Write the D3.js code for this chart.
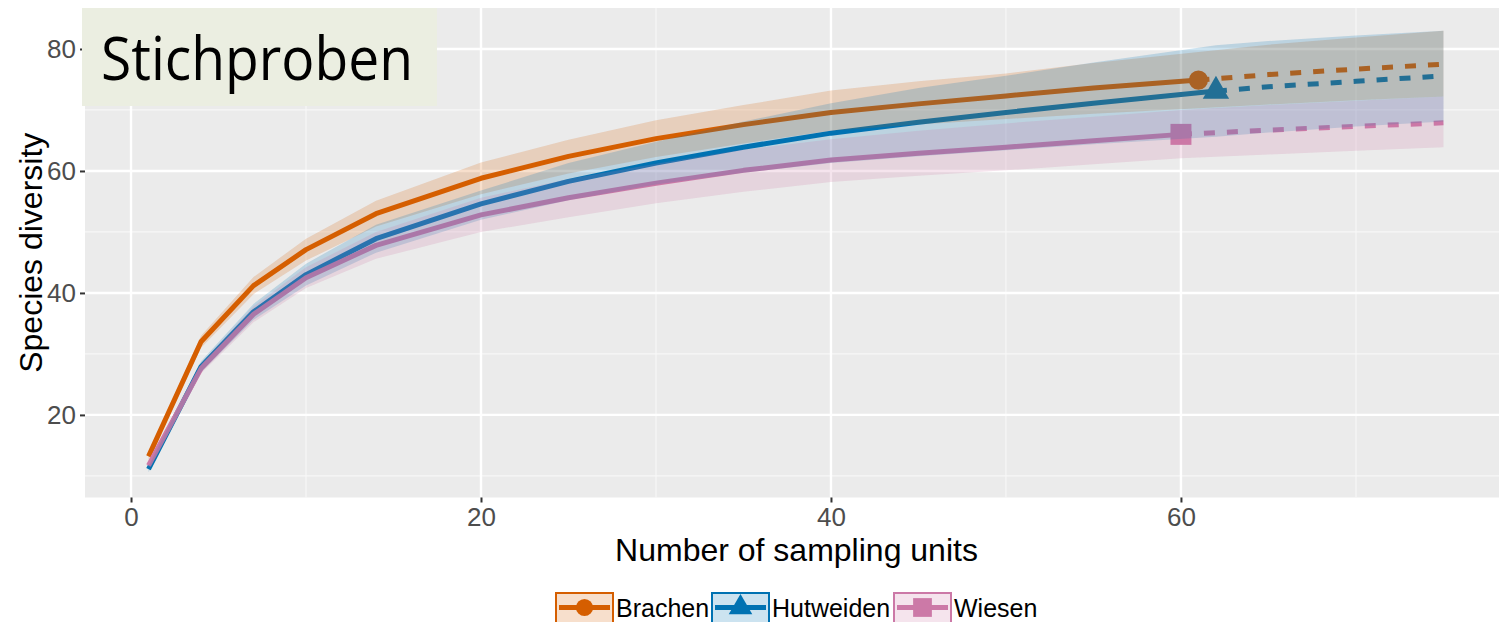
<!DOCTYPE html>
<html>
<head>
<meta charset="utf-8">
<script src="https://cdn.jsdelivr.net/npm/d3@7"></script>
<style>
  body { margin: 0; background: #ffffff; }
  svg { display: block; }
</style>
</head>
<body>
<svg id="chart" width="1499" height="622"></svg>
<script>
// rarefaction / extrapolation curves (iNEXT style)
var categories = ["Brachen", "Hutweiden", "Wiesen"];
var colors = ["#d55e00", "#0072b2", "#cc79a7"];
var observedN = [61, 62, 60];

var brachenX  = [1, 4, 7, 10, 14, 20, 25, 30, 35, 40, 45, 50, 55, 61, 65, 70, 75];
var brachenY  = [13.2, 32.0, 41.2, 47.1, 53.0, 58.8, 62.4, 65.3, 67.6, 69.6, 71.0, 72.3, 73.6, 74.9, 75.8, 76.7, 77.5];
var brachenLo = [12.6, 31.0, 39.8, 45.3, 50.9, 56.2, 59.6, 62.3, 64.5, 66.6, 67.6, 68.5, 69.4, 70.3, 70.9, 71.6, 72.2];
var brachenHi = [13.8, 33.0, 42.6, 48.9, 55.1, 61.4, 65.1, 68.3, 70.8, 73.2, 74.7, 76.0, 77.7, 79.5, 80.7, 81.9, 83.0];

var hutweidenX  = [1, 4, 7, 10, 14, 20, 25, 30, 35, 40, 45, 50, 55, 62, 65, 70, 75];
var hutweidenY  = [11.1, 27.9, 36.9, 43.0, 48.9, 54.6, 58.3, 61.3, 63.9, 66.2, 68.0, 69.6, 71.1, 73.1, 73.8, 74.7, 75.6];
var hutweidenLo = [10.6, 27.0, 35.6, 41.2, 46.6, 52.0, 55.2, 57.8, 59.7, 61.3, 62.4, 63.4, 64.4, 65.6, 66.3, 67.3, 68.1];
var hutweidenHi = [11.6, 28.8, 38.2, 44.8, 51.2, 56.8, 61.3, 64.8, 68.1, 71.1, 73.6, 75.6, 77.8, 80.6, 81.3, 82.2, 83.0];

var wiesenX  = [1, 4, 7, 10, 14, 20, 25, 30, 35, 40, 45, 50, 55, 60, 65, 70, 75];
var wiesenY  = [11.7, 27.6, 36.5, 42.5, 47.8, 52.8, 55.6, 58.0, 60.1, 61.8, 62.9, 63.9, 64.95, 66.0, 66.7, 67.3, 67.9];
var wiesenLo = [11.2, 26.8, 35.2, 40.8, 45.6, 50.0, 52.4, 54.7, 56.6, 58.2, 59.2, 60.1, 61.1, 62.1, 62.7, 63.3, 63.9];
var wiesenHi = [12.2, 28.4, 37.8, 44.2, 50.0, 55.6, 58.7, 61.2, 63.5, 65.2, 66.6, 67.8, 68.9, 70.0, 70.8, 71.5, 72.2];

var xTicks = [0, 20, 40, 60];
var yTicks = [20, 40, 60, 80];
var xMinor = [10, 30, 50, 70];
var yMinor = [10, 30, 50, 70];

var seriesX  = [brachenX, hutweidenX, wiesenX];
var seriesY  = [brachenY, hutweidenY, wiesenY];
var seriesLo = [brachenLo, hutweidenLo, wiesenLo];
var seriesHi = [brachenHi, hutweidenHi, wiesenHi];
var shapes = [d3.symbolCircle, d3.symbolTriangle, d3.symbolSquare];
var shapeSize = [290, 300, 440];

var svg = d3.select("#chart");
var panel = { left: 85, right: 1508, top: 8, bottom: 497.5 };

var x = d3.scaleLinear().domain([-2.63, 78.69]).range([panel.left, panel.right]);
var y = d3.scaleLinear().domain([6.46, 86.72]).range([panel.bottom, panel.top]);

svg.append("rect")
    .attr("x", panel.left).attr("y", panel.top)
    .attr("width", panel.right - panel.left).attr("height", panel.bottom - panel.top)
    .attr("fill", "#ebebeb");

// grid
var grid = svg.append("g");
grid.selectAll(".xmin").data(xMinor).enter().append("line")
    .attr("x1", function(d) { return x(d); }).attr("x2", function(d) { return x(d); })
    .attr("y1", panel.top).attr("y2", panel.bottom)
    .attr("stroke", "#f7f7f7").attr("stroke-width", 1.2);
grid.selectAll(".ymin").data(yMinor).enter().append("line")
    .attr("y1", function(d) { return y(d); }).attr("y2", function(d) { return y(d); })
    .attr("x1", panel.left).attr("x2", panel.right)
    .attr("stroke", "#f7f7f7").attr("stroke-width", 1.2);
grid.selectAll(".xmaj").data(xTicks).enter().append("line")
    .attr("x1", function(d) { return x(d); }).attr("x2", function(d) { return x(d); })
    .attr("y1", panel.top).attr("y2", panel.bottom)
    .attr("stroke", "#ffffff").attr("stroke-width", 2.4);
grid.selectAll(".ymaj").data(yTicks).enter().append("line")
    .attr("y1", function(d) { return y(d); }).attr("y2", function(d) { return y(d); })
    .attr("x1", panel.left).attr("x2", panel.right)
    .attr("stroke", "#ffffff").attr("stroke-width", 2.4);

// axes
var xAxis = d3.axisBottom(x).tickValues(xTicks).tickSize(5).tickPadding(5);
var gx = svg.append("g").attr("transform", "translate(0," + panel.bottom + ")").call(xAxis);
var yAxis = d3.axisLeft(y).tickValues(yTicks).tickSize(5).tickPadding(4);
var gy = svg.append("g").attr("transform", "translate(" + panel.left + ",0)").call(yAxis);
[gx, gy].forEach(function(g) {
    g.select(".domain").remove();
    g.selectAll(".tick line").attr("stroke", "#333333").attr("stroke-width", 2);
    g.selectAll(".tick text").attr("fill", "#4d4d4d")
        .style("font-family", "'Liberation Sans', Arial, sans-serif").style("font-size", "26px");
});

svg.append("text")
    .attr("x", (panel.left + panel.right) / 2).attr("y", 561)
    .attr("text-anchor", "middle")
    .style("font-family", "'Liberation Sans', Arial, sans-serif").style("font-size", "32px")
    .attr("fill", "#000").text("Number of sampling units");

svg.append("text")
    .attr("transform", "translate(42," + ((panel.top + panel.bottom) / 2) + ") rotate(-90)")
    .attr("text-anchor", "middle")
    .style("font-family", "'Liberation Sans', Arial, sans-serif").style("font-size", "32px")
    .attr("fill", "#000").text("Species diversity");

// lines and points first, ribbons go on top (like ggiNEXT)
var line = d3.line()
    .x(function(d) { return x(d.x); })
    .y(function(d) { return y(d.y); });
var area = d3.area()
    .x(function(d) { return x(d.x); })
    .y0(function(d) { return y(d.lo); })
    .y1(function(d) { return y(d.hi); });

var series = categories.map(function(name, i) {
    var pts = seriesX[i].map(function(v, j) {
        return { x: v, y: seriesY[i][j], lo: seriesLo[i][j], hi: seriesHi[i][j] };
    });
    return { name: name, color: colors[i], n: observedN[i], pts: pts, shape: shapes[i], size: shapeSize[i] };
});

var marks = svg.append("g");
series.forEach(function(s) {
    var obs = s.pts.filter(function(p) { return p.x <= s.n; });
    var ext = s.pts.filter(function(p) { return p.x >= s.n; });
    marks.append("path").attr("d", line(obs))
        .attr("fill", "none").attr("stroke", s.color).attr("stroke-width", 5)
        .attr("stroke-linejoin", "round");
    marks.append("path").attr("d", line(ext))
        .attr("fill", "none").attr("stroke", s.color).attr("stroke-width", 5)
        .attr("stroke-dasharray", "11,12");
    var last = obs[obs.length - 1];
    marks.append("path")
        .attr("d", d3.symbol().type(s.shape).size(s.size)())
        .attr("transform", "translate(" + x(last.x) + "," + y(last.y) + ")")
        .attr("fill", s.color);
});

var ribbons = svg.append("g");
series.forEach(function(s) {
    ribbons.append("path").attr("d", area(s.pts))
        .attr("fill", s.color).attr("fill-opacity", 0.2);
});

// title box
svg.append("rect")
    .attr("x", 82).attr("y", 8).attr("width", 355).attr("height", 98)
    .attr("fill", "#ebeee1");
svg.append("text")
    .attr("x", 101).attr("y", 80)
    .attr("textLength", 312).attr("lengthAdjust", "spacingAndGlyphs")
    .style("font-family", "'Open Sans', 'Noto Sans', sans-serif").style("font-size", "60px")
    .attr("fill", "#000").text("Stichproben");

// legend
var legendX = [555, 711, 893];
var legend = svg.append("g");
series.forEach(function(s, i) {
    var g = legend.append("g").attr("transform", "translate(" + legendX[i] + ",592)");
    g.append("rect").attr("x", 1).attr("y", 1).attr("width", 57).attr("height", 30)
        .attr("fill", s.color).attr("fill-opacity", 0.2)
        .attr("stroke", s.color).attr("stroke-width", 2);
    g.append("line").attr("x1", 4).attr("x2", 55).attr("y1", 15.5).attr("y2", 15.5)
        .attr("stroke", s.color).attr("stroke-width", 5);
    g.append("path")
        .attr("d", d3.symbol().type(s.shape).size(s.size * 0.8)())
        .attr("transform", "translate(29.5,15.5)")
        .attr("fill", s.color);
    g.append("text").attr("x", 61).attr("y", 25)
        .style("font-family", "'Liberation Sans', Arial, sans-serif").style("font-size", "25px")
        .attr("fill", "#000").text(s.name);
});
</script>
</body>
</html>
